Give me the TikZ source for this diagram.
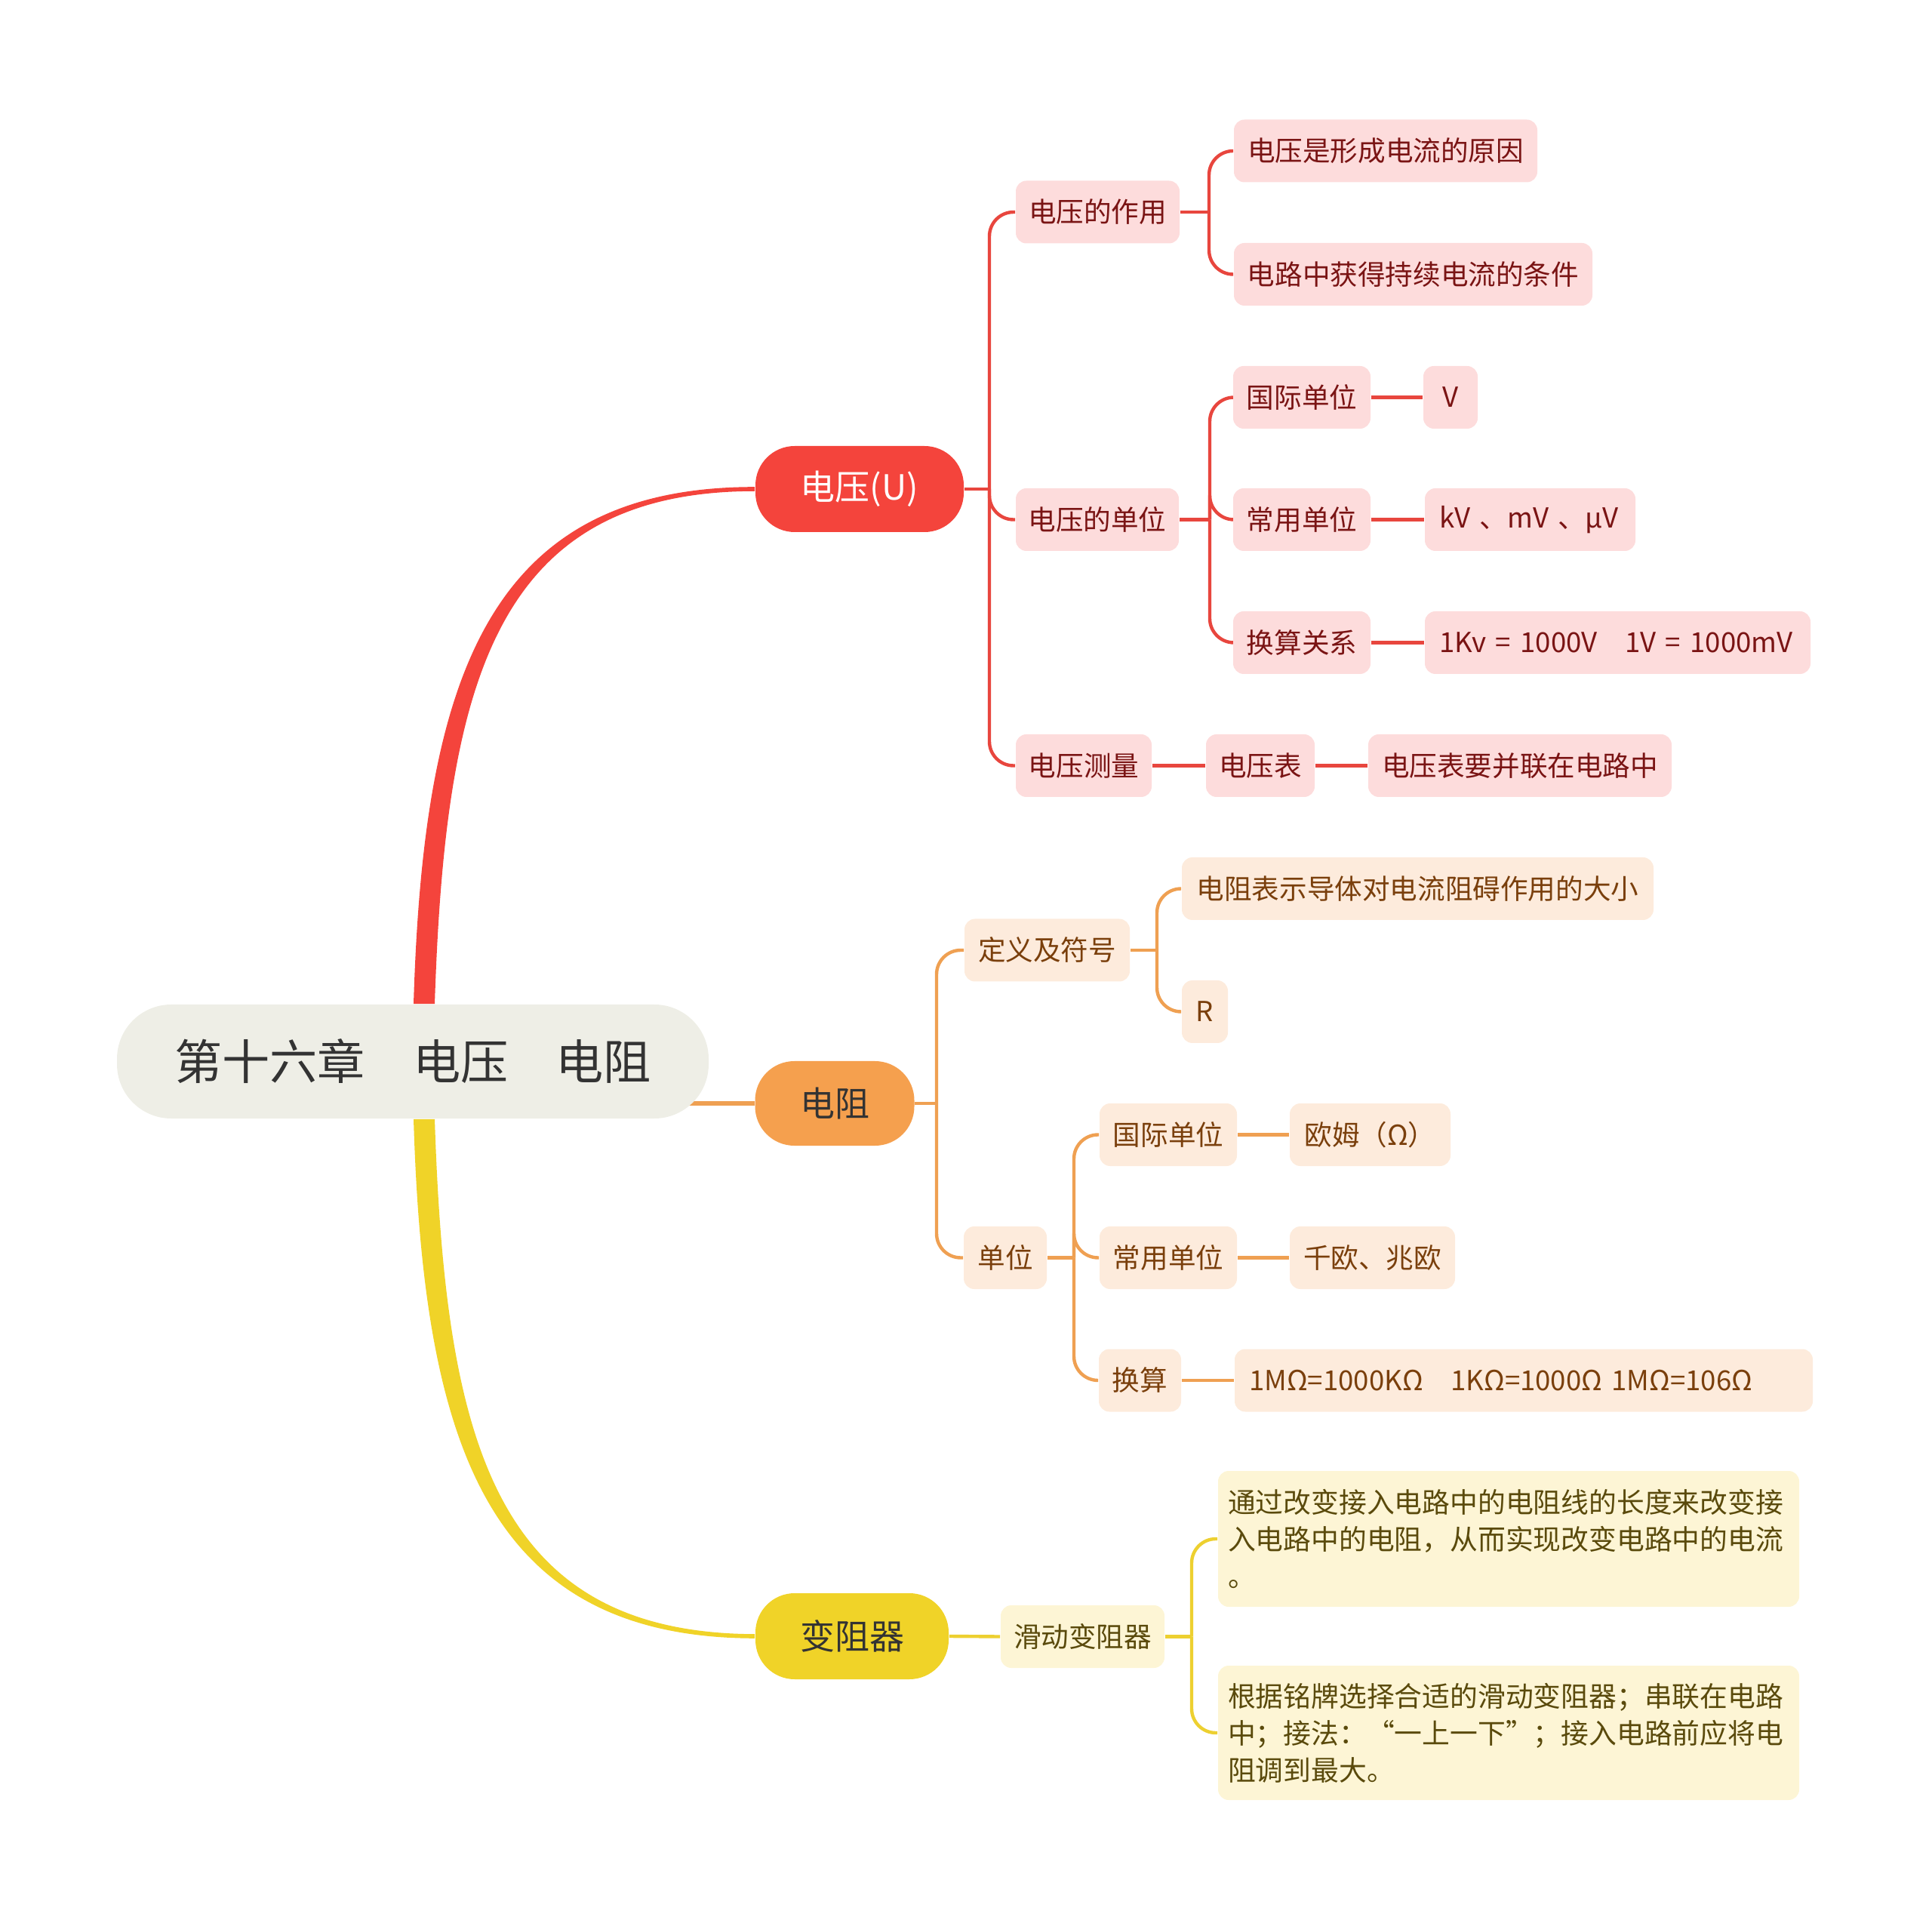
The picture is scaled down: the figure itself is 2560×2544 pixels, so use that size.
\documentclass[tikz,border=0pt]{standalone}
\usepackage{fontspec}
\setmainfont{Noto Sans CJK SC}
\usetikzlibrary{backgrounds,calc}
\definecolor{cR}{HTML}{F4443C}
\definecolor{cRc}{HTML}{E8463E}
\definecolor{cRl}{HTML}{FDDCDC}
\definecolor{cRt}{HTML}{7A1414}
\definecolor{cO}{HTML}{F5A04E}
\definecolor{cOc}{HTML}{EFA052}
\definecolor{cOl}{HTML}{FDEBDC}
\definecolor{cOt}{HTML}{7A3F0C}
\definecolor{cY}{HTML}{F0D328}
\definecolor{cYc}{HTML}{EDD030}
\definecolor{cYl}{HTML}{FDF5D5}
\definecolor{cYt}{HTML}{5A4A0C}
\definecolor{cRoot}{HTML}{EEEEE6}
\definecolor{cText}{HTML}{333333}
\begin{document}
\begin{tikzpicture}[x=0.25pt,y=-0.25pt,
  base/.style={inner sep=0pt, align=center},
  rootbox/.style={base, fill=cRoot, text=cText, rounded corners=18pt, minimum width=196pt, minimum height=37.75pt, font=\fontsize{15.8pt}{18pt}\selectfont},
  pill/.style={base, rounded corners=13pt, minimum height=28.5pt, font=\fontsize{11.5pt}{14pt}\selectfont},
  smallbox/.style={base, rounded corners=3.5pt, minimum height=20.75pt, font=\fontsize{9.15pt}{11pt}\selectfont},
  rb/.style={smallbox, fill=cRl, text=cRt},
  ob/.style={smallbox, fill=cOl, text=cOt},
  yb/.style={smallbox, fill=cYl, text=cYt},
  lefttext/.style={text width=#1, align=left},
  yleaf/.style={yb, minimum width=192.5pt, text width=186pt, align=left, font=\fontsize{9.2pt}{12.25pt}\selectfont},
  rl/.style={draw=cRc, line width=1.1pt},
  ol/.style={draw=cOc, line width=1.1pt},
  yl/.style={draw=cYc, line width=1.1pt},
  branch/.style={rounded corners=8pt}
]
\useasboundingbox (0,0) rectangle (2560,2544);

% root and main branches
\node[rootbox] (root) at (547,1406.5) {第十六章　电压　电阻};
\node[pill, fill=cR, text=white, minimum width=69pt] (U) at (1139,648) {电压(U)};
\node[pill, fill=cO, text=cText, minimum width=52.75pt, minimum height=28pt] (R) at (1106,1462) {电阻};
\node[pill, fill=cY, text=cText, minimum width=64pt] (Y) at (1129,2168) {变阻器};

% voltage subtree
\node[rb, minimum width=54.25pt] (A1) at (1454.5,281) {电压的作用};
\node[rb, minimum width=100.5pt] (A1a) at (1836,200) {电压是形成电流的原因};
\node[rb, minimum width=118.75pt] (A1b) at (1872.5,363.5) {电路中获得持续电流的条件};
\node[rb, minimum width=54pt] (A2) at (1454,688.5) {电压的单位};
\node[rb, minimum width=45.5pt] (A2a) at (1725,526.5) {国际单位};
\node[rb, minimum width=18pt] (A2a1) at (1922,526.5) {V};
\node[rb, minimum width=45.5pt] (A2b) at (1725,688.5) {常用单位};
\node[rb, minimum width=69.75pt, lefttext=60pt] (A2b1) at (2027.5,688.5) {kV 、mV 、μV};
\node[rb, minimum width=45.5pt] (A2c) at (1725,851.5) {换算关系};
\node[rb, minimum width=127.75pt, lefttext=118pt] (A2c1) at (2143.5,851.5) {1Kv = 1000V　1V = 1000mV};
\node[rb, minimum width=45pt] (A3) at (1436,1014.5) {电压测量};
\node[rb, minimum width=36pt] (A3a) at (1670,1014.5) {电压表};
\node[rb, minimum width=100.5pt] (A3b) at (2014,1014.5) {电压表要并联在电路中};

% resistance subtree
\node[ob, minimum width=54.75pt] (B1) at (1387.5,1259) {定义及符号};
\node[ob, minimum width=156.25pt] (B1a) at (1878.5,1177.5) {电阻表示导体对电流阻碍作用的大小};
\node[ob, minimum width=15.25pt] (B1b) at (1596.5,1340.5) {R};
\node[ob, minimum width=27.5pt] (B2) at (1332,1666.5) {单位};
\node[ob, minimum width=45.5pt] (B2a) at (1548,1503.5) {国际单位};
\node[ob, minimum width=53.25pt] (B2a1) at (1815.5,1503.5) {欧姆（Ω）};
\node[ob, minimum width=45.5pt] (B2b) at (1548,1666.5) {常用单位};
\node[ob, minimum width=54.75pt] (B2b1) at (1818.5,1666.5) {千欧、兆欧};
\node[ob, minimum width=27.25pt] (B2c) at (1510.5,1829) {换算};
\node[ob, minimum width=191.5pt, lefttext=182pt] (B2c1) at (2019,1829) {1MΩ=1000KΩ　1KΩ=1000Ω 1MΩ=106Ω};

% rheostat subtree
\node[yb, minimum width=54.25pt] (C1) at (1434.5,2168.5) {滑动变阻器};
\node[yleaf, minimum height=45pt] (C1a) at (1999,2039) {通过改变接入电路中的电阻线的长度来改变接\\入电路中的电阻，从而实现改变电路中的电流\\。};
\node[yleaf, minimum height=44.5pt] (C1b) at (1999,2296) {根据铭牌选择合适的滑动变阻器；串联在电路\\中；接法：“一上一下”；接入电路前应将电\\阻调到最大。};

\begin{pgfonlayer}{background}
% tapered main connectors
\fill[cR] ([xshift=0.25pt]root.north) .. controls (561,900) and (645,645) .. ([yshift=0.7pt]U.west)
  -- ([yshift=-0.7pt]U.west) .. controls (655,651) and (590,905) .. ([xshift=7.25pt]root.north) -- cycle;
\fill[cY] ([xshift=0.25pt]root.south) .. controls (561,1914) and (645,2170) .. ([yshift=-0.7pt]Y.west)
  -- ([yshift=0.7pt]Y.west) .. controls (655,2164) and (590,1910) .. ([xshift=7.25pt]root.south) -- cycle;
\draw[draw=cOc, line width=1.5pt] (root.center |- R.west) -- (R.west);

% voltage connectors
\coordinate (sU) at (1311,648);
\draw[rl] (U.east) -- (sU);
\foreach \c in {A1,A2,A3} \draw[rl, branch] (sU) |- (\c.west);
\coordinate (sA1) at (1602,281);
\draw[rl] (A1.east) -- (sA1);
\foreach \c in {A1a,A1b} \draw[rl, branch] (sA1) |- (\c.west);
\coordinate (sA2) at (1603,688.5);
\draw[rl] (A2.east) -- (sA2);
\foreach \c in {A2a,A2b,A2c} \draw[rl, branch] (sA2) |- (\c.west);
\draw[rl] (A2a) -- (A2a1);
\draw[rl] (A2b) -- (A2b1);
\draw[rl] (A2c) -- (A2c1);
\draw[rl] (A3) -- (A3a);
\draw[rl] (A3a) -- (A3b);

% resistance connectors
\coordinate (sR) at (1241,1462);
\draw[ol] (R.east) -- (sR);
\foreach \c in {B1,B2} \draw[ol, branch] (sR) |- (\c.west);
\coordinate (sB1) at (1533,1259);
\draw[ol] (B1.east) -- (sB1);
\foreach \c in {B1a,B1b} \draw[ol, branch] (sB1) |- (\c.west);
\coordinate (sB2) at (1423,1666.5);
\draw[ol] (B2.east) -- (sB2);
\foreach \c in {B2a,B2b,B2c} \draw[ol, branch] (sB2) |- (\c.west);
\draw[ol] (B2a) -- (B2a1);
\draw[ol] (B2b) -- (B2b1);
\draw[ol] (B2c) -- (B2c1);

% rheostat connectors
\draw[yl] (Y.east) -- (C1.west);
\coordinate (sC1) at (1579,2168.5);
\draw[yl] (C1.east) -- (sC1);
\foreach \c in {C1a,C1b} \draw[yl, branch] (sC1) |- (\c.west);
\end{pgfonlayer}
\end{tikzpicture}
\end{document}
